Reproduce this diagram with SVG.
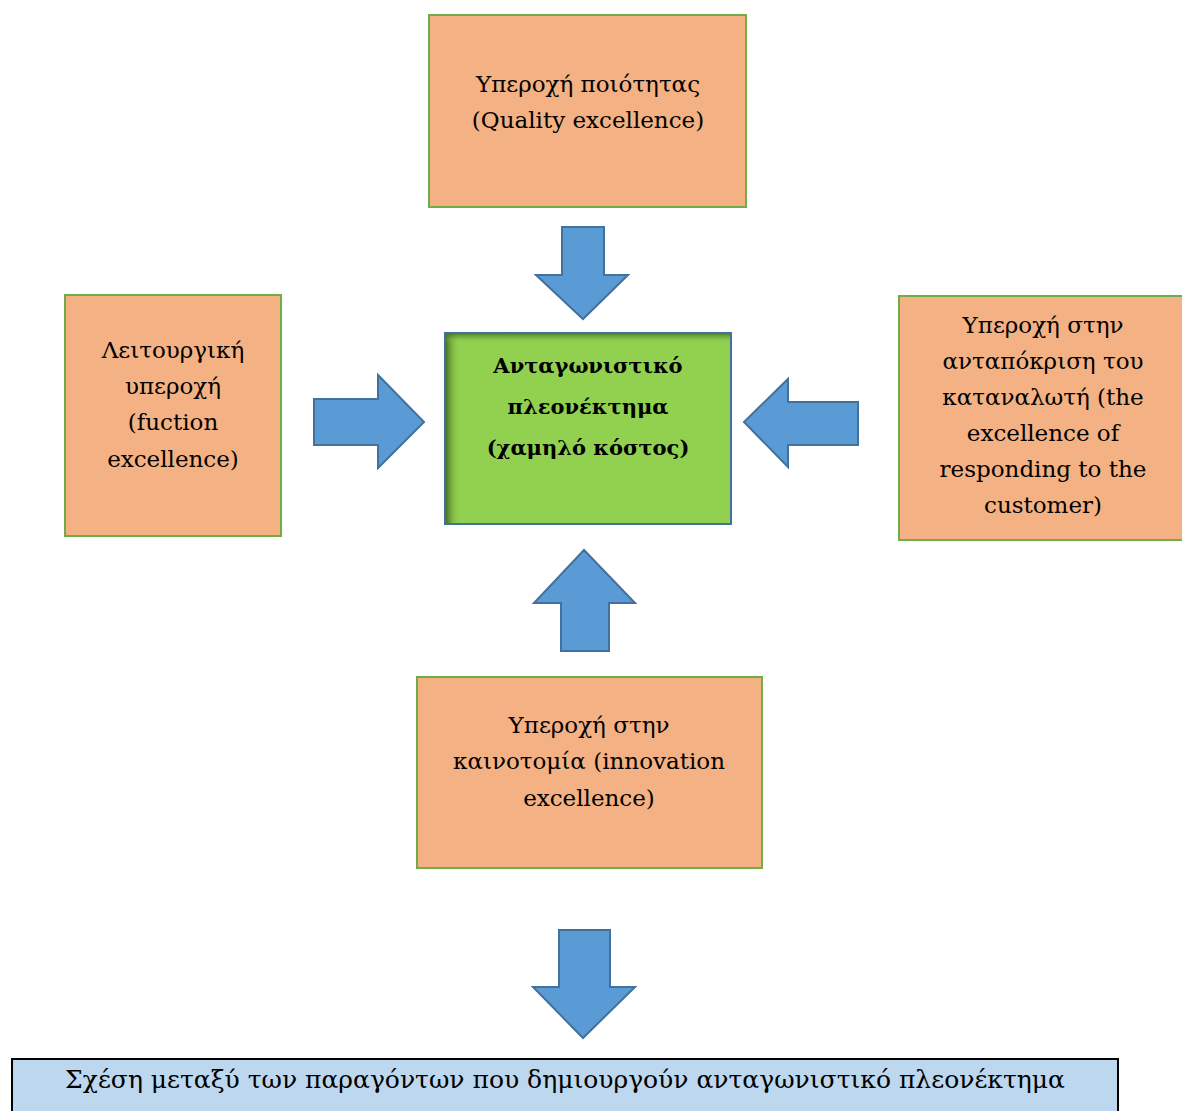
<svg xmlns="http://www.w3.org/2000/svg" width="1182" height="1111" viewBox="0 0 1182 1111">
<style>
.box{fill:#F4B183;stroke:#70AD47;stroke-width:2}
.arr{fill:#5B9BD5;stroke:#41719C;stroke-width:2;stroke-linejoin:miter}
</style>
<defs>
<linearGradient id="sh" x1="0" y1="0" x2="1" y2="0">
<stop offset="0" stop-color="#3F6A1E" stop-opacity="0.9"/>
<stop offset="0.05" stop-color="#92D050" stop-opacity="0"/>
</linearGradient>
<linearGradient id="shv" x1="0" y1="0" x2="0" y2="1">
<stop offset="0" stop-color="#3F6A1E" stop-opacity="0.7"/>
<stop offset="0.05" stop-color="#92D050" stop-opacity="0"/>
</linearGradient>
</defs>
<rect width="1182" height="1111" fill="#fff"/>
<g id="connectors">
<polygon class="arr" points="562,227 604,227 604,275 628,275 583,319 536,275 562,275"/>
<polygon class="arr" points="314,399 378,399 378,375 424,422 378,468 378,445 314,445"/>
<polygon class="arr" points="858,402 788,402 788,379 744,422 788,467 788,445 858,445"/>
<polygon class="arr" points="561,651 609,651 609,603 635,603 584,550 534,603 561,603"/>
<polygon class="arr" points="559,930 610,930 610,987 635,987 583,1038 533,987 559,987"/>
</g>
<g font-family="DejaVu Serif, serif" font-size="23" text-anchor="middle" fill="#000">
<g id="node-quality">
<rect class="box" x="429" y="15" width="317" height="192"/>
<text x="588" y="92">Υπεροχή ποιότητας</text>
<text x="588" y="128">(Quality excellence)</text>
</g>
<g id="node-center">
<rect x="445" y="333" width="286" height="191" fill="#92D050" stroke="#41719C" stroke-width="2"/>
<rect x="446" y="334" width="284" height="189" fill="url(#sh)"/>
<rect x="446" y="334" width="284" height="189" fill="url(#shv)"/>
<text font-weight="bold" font-size="21" x="588" y="373">Ανταγωνιστικό</text>
<text font-weight="bold" font-size="21" x="588" y="414">πλεονέκτημα</text>
<text font-weight="bold" font-size="21" x="588" y="455">(χαμηλό κόστος)</text>
</g>
<g id="node-function">
<rect class="box" x="65" y="295" width="216" height="241"/>
<text x="173" y="358">Λειτουργική</text>
<text x="173" y="394">υπεροχή</text>
<text x="173" y="430">(fuction</text>
<text x="173" y="467">excellence)</text>
</g>
<g id="node-customer">
<rect class="box" x="899" y="296" width="290" height="244"/>
<text x="1043" y="333">Υπεροχή στην</text>
<text x="1043" y="369">ανταπόκριση του</text>
<text x="1043" y="405">καταναλωτή (the</text>
<text x="1043" y="441">excellence of</text>
<text x="1043" y="477">responding to the</text>
<text x="1043" y="513">customer)</text>
</g>
<g id="node-innovation">
<rect class="box" x="417" y="677" width="345" height="191"/>
<text x="589" y="733">Υπεροχή στην</text>
<text x="589" y="769">καινοτομία (innovation</text>
<text x="589" y="806">excellence)</text>
</g>
<g id="caption">
<rect x="12" y="1059" width="1106" height="70" fill="#BDD7EE" stroke="#000" stroke-width="2"/>
<text x="565" y="1088" font-size="25">Σχέση μεταξύ των παραγόντων που δημιουργούν ανταγωνιστικό πλεονέκτημα</text>
</g>
</g>
</svg>
